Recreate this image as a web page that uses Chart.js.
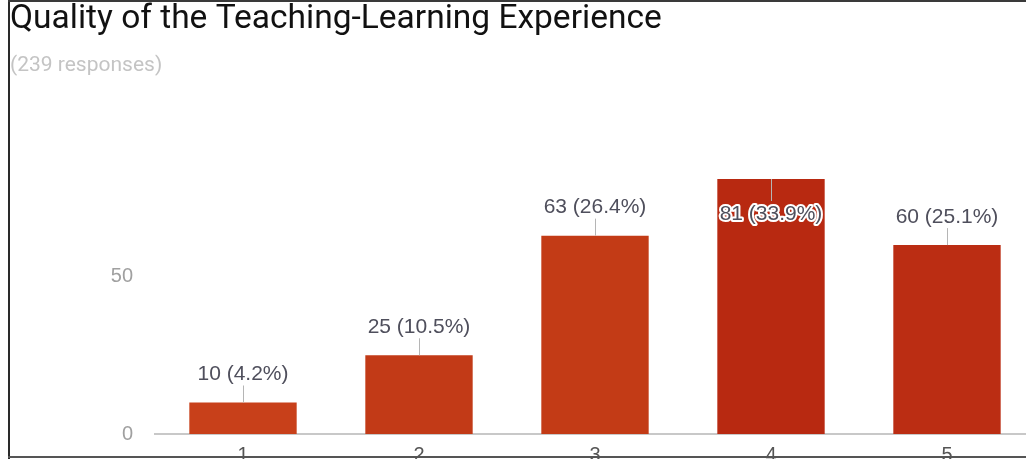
<!DOCTYPE html>
<html>
<head>
<meta charset="utf-8">
<script src="https://cdn.jsdelivr.net/npm/chart.js@4.4.1/dist/chart.umd.min.js"></script>
<style>
  html, body { margin: 0; padding: 0; background: #fff; overflow: hidden; }
  #wrap { position: relative; width: 1026px; height: 459px; overflow: hidden; }
  #chart { position: absolute; left: 0; top: 0; }
  .edge { position: absolute; pointer-events: none; }
  #edgeLeft { left: 8px; top: 0; width: 2px; height: 459px; background: #2a2a2a; }
  #edgeTop { left: 8px; top: 0; width: 1018px; height: 2px; background: #3a3a3a; }
  #edgeBottom { left: 8px; top: 456px; width: 1018px; height: 2px; background: #555; }
</style>
</head>
<body>
<div id="wrap">
  <canvas id="chart" width="1040" height="459"></canvas>
  <div class="edge" id="edgeLeft"></div>
  <div class="edge" id="edgeTop"></div>
  <div class="edge" id="edgeBottom"></div>
</div>
<script>
// DATA
const categories = ["1", "2", "3", "4", "5"];
const responses = [10, 25, 63, 81, 60];
const totalResponses = 239;
const yTicks = [0, 50];
const barColors = ["#c8401a", "#c23a17", "#c33b16", "#b82911", "#bb2d13"];

// labels like "63 (26.4%)" with a small leader line to the bar
const barLabels = {
  id: "barLabels",
  afterDatasetsDraw(chart) {
    const ctx = chart.ctx;
    const area = chart.chartArea;
    const meta = chart.getDatasetMeta(0);
    ctx.save();
    ctx.font = "21px 'Liberation Sans', Arial, sans-serif";
    ctx.textAlign = "center";
    ctx.textBaseline = "middle";
    meta.data.forEach((bar, i) => {
      const v = responses[i];
      const pct = (v / totalResponses * 100).toFixed(1);
      const text = v + " (" + pct + "%)";
      const inside = bar.y - 45 < area.top;
      ctx.strokeStyle = "#b5b5b5";
      ctx.lineWidth = 1;
      ctx.beginPath();
      if (inside) {
        ctx.moveTo(bar.x + 0.5, bar.y);
        ctx.lineTo(bar.x + 0.5, bar.y + 22);
      } else {
        ctx.moveTo(bar.x + 0.5, bar.y - 17);
        ctx.lineTo(bar.x + 0.5, bar.y);
      }
      ctx.stroke();
      const ty = inside ? bar.y + 35 : bar.y - 28;
      if (inside) {
        ctx.lineWidth = 4;
        ctx.strokeStyle = "#ffffff";
        ctx.lineJoin = "round";
        ctx.strokeText(text, bar.x, ty);
      }
      ctx.fillStyle = "#4f4f5c";
      ctx.fillText(text, bar.x, ty);
    });
    ctx.restore();
  }
};

const cfg = {
  type: "bar",
  data: {
    labels: categories,
    datasets: [{
      data: responses,
      backgroundColor: barColors,
      borderWidth: 0,
      barPercentage: 0.61,
      categoryPercentage: 1.0
    }]
  },
  options: {
    responsive: false,
    animation: false,
    layout: { padding: { left: 10, right: 5, top: 0, bottom: 0 } },
    plugins: {
      legend: { display: false },
      tooltip: { enabled: false },
      title: {
        display: true,
        text: "Quality of the Teaching-Learning Experience",
        align: "start",
        color: "#111",
        font: { family: "Roboto", size: 33.5, weight: "normal", lineHeight: 1.15 },
        padding: { top: 0, bottom: 6 }
      },
      subtitle: {
        display: true,
        text: "(239 responses)",
        align: "start",
        color: "#c4c4c4",
        font: { family: "Roboto", size: 21, weight: "normal", lineHeight: 1.1 },
        padding: { top: 10, bottom: 73 }
      }
    },
    scales: {
      x: {
        grid: { display: false, drawTicks: false },
        border: { display: true, color: "#c8c8c8", width: 2 },
        ticks: {
          color: "#555",
          padding: 9,
          font: { family: "'Liberation Sans', Arial", size: 20 }
        },
        afterFit(scale) { scale.height = 25; }
      },
      y: {
        min: 0,
        max: 90,
        grid: { display: false, drawTicks: false },
        border: { display: false },
        ticks: {
          color: "#a0a0a0",
          padding: 22,
          font: { family: "'Liberation Sans', Arial", size: 20 }
        },
        afterBuildTicks(scale) { scale.ticks = yTicks.map(v => ({ value: v })); },
        afterFit(scale) {
          scale.width = 145;
          // no extra room for the tick labels above / below the plot
          scale.paddingTop = 0;
          scale.paddingBottom = 0;
        }
      }
    }
  },
  plugins: [barLabels]
};

new Chart(document.getElementById("chart"), cfg);
</script>
</body>
</html>
